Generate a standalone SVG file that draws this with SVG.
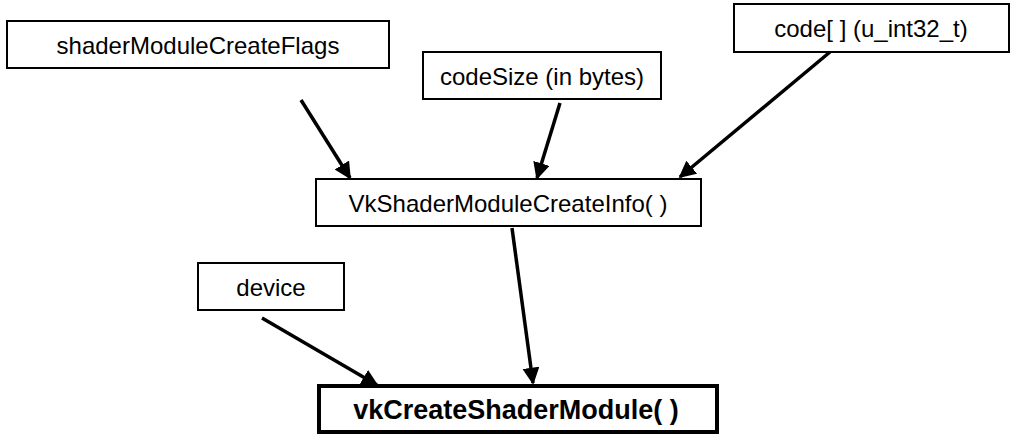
<svg xmlns="http://www.w3.org/2000/svg" width="1034" height="439" viewBox="0 0 1034 439">
<style>
.box{fill:#fff;stroke:#000;stroke-width:2}
.bold{fill:#fff;stroke:#000;stroke-width:4}
.t{font-family:"Liberation Sans",Arial,sans-serif;font-size:24px;fill:#000;text-anchor:middle;dominant-baseline:central}
.tb{font-family:"Liberation Sans",Arial,sans-serif;font-size:27px;font-weight:bold;fill:#000;text-anchor:middle;dominant-baseline:central}
.c{stroke:#000;stroke-width:3.5;fill:none;marker-end:url(#ah)}
</style>
<defs>
<marker id="ah" viewBox="0 0 10 10" refX="9" refY="5" markerUnits="userSpaceOnUse" markerWidth="17" markerHeight="17" orient="auto">
<path d="M0,0 L10,5 L0,10 z" fill="#000"/>
</marker>
</defs>
<rect width="1034" height="439" fill="#fff"/>
<g id="flags"><rect class="box" x="7" y="21" width="382" height="47"/><text class="t" x="198" y="45">shaderModuleCreateFlags</text></g>
<g id="codesize"><rect class="box" x="423" y="52" width="238" height="47"/><text class="t" x="542" y="76">codeSize (in bytes)</text></g>
<g id="code"><rect class="box" x="734" y="4" width="275" height="48"/><text class="t" x="871" y="28">code[ ] (u_int32_t)</text></g>
<g id="info"><rect class="box" x="316" y="179" width="385" height="47"/><text class="t" x="508" y="203">VkShaderModuleCreateInfo( )</text></g>
<g id="device"><rect class="box" x="198" y="263" width="146" height="47"/><text class="t" x="271" y="287">device</text></g>
<g id="create"><rect class="bold" x="319" y="386" width="398" height="46"/><text class="tb" x="516" y="410">vkCreateShaderModule( )</text></g>
<g id="connectors">
<line class="c" x1="301" y1="100" x2="350" y2="178"/>
<line class="c" x1="560" y1="103" x2="537" y2="178"/>
<line class="c" x1="830" y1="52" x2="680" y2="177"/>
<line class="c" x1="512" y1="228" x2="533" y2="383"/>
<line class="c" x1="262" y1="318" x2="377" y2="385"/>
</g>
</svg>
